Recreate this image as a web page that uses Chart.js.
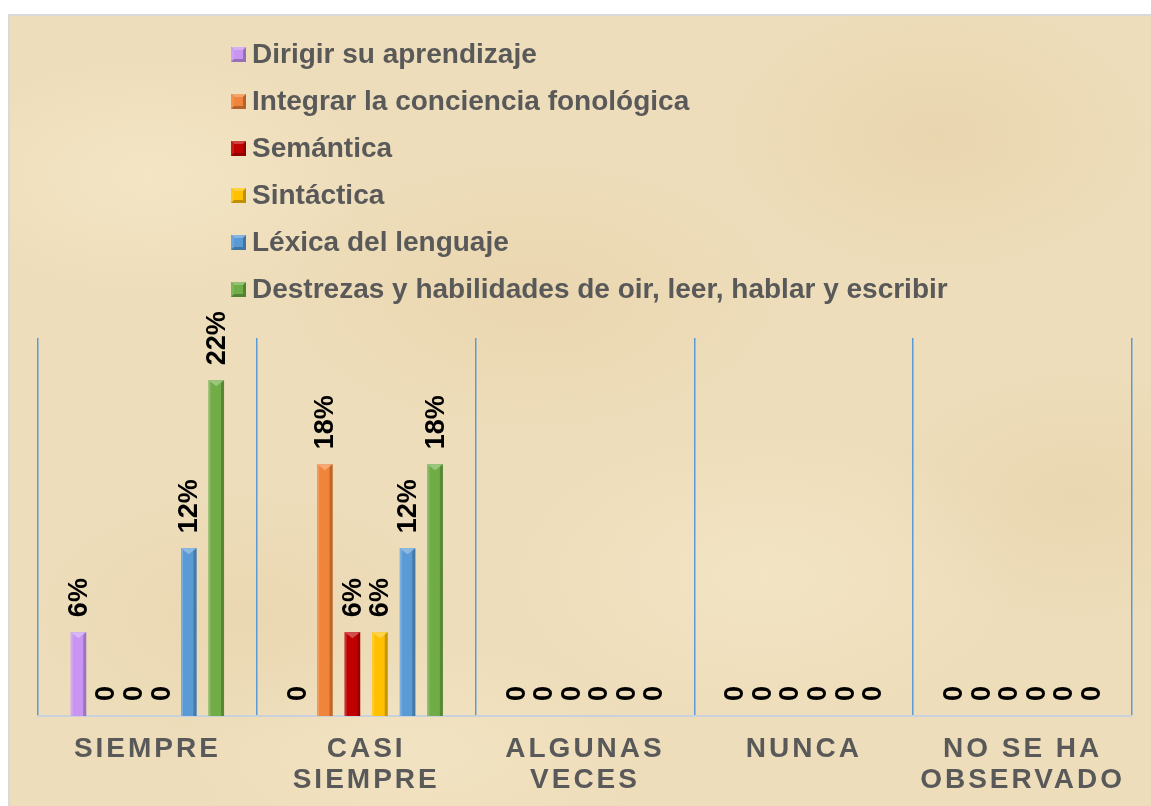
<!DOCTYPE html>
<html><head><meta charset="utf-8">
<script src="https://cdn.jsdelivr.net/npm/chart.js@4.4.1/dist/chart.umd.min.js"></script>
<style>
html,body{margin:0;padding:0;background:#fff;overflow:hidden;width:1151px;height:806px;}
#frame{position:absolute;left:8px;top:14px;width:1160px;height:800px;
border-left:2px solid #D9D9D9;border-top:2px solid #D9D9D9;
background-color:#EEDDBA;
background-image:
 radial-gradient(ellipse 220px 120px at 12% 20%, rgba(248,236,206,0.55), rgba(248,236,206,0) 100%),
 radial-gradient(ellipse 260px 140px at 45% 35%, rgba(228,206,162,0.4), rgba(228,206,162,0) 100%),
 radial-gradient(ellipse 220px 140px at 80% 15%, rgba(226,204,160,0.4), rgba(226,204,160,0) 100%),
 radial-gradient(ellipse 260px 150px at 65% 70%, rgba(248,236,208,0.45), rgba(248,236,208,0) 100%),
 radial-gradient(ellipse 220px 130px at 20% 75%, rgba(228,208,166,0.4), rgba(228,208,166,0) 100%),
 radial-gradient(ellipse 200px 130px at 92% 60%, rgba(226,206,164,0.4), rgba(226,206,164,0) 100%),
 radial-gradient(ellipse 240px 110px at 35% 92%, rgba(246,234,204,0.45), rgba(246,234,204,0) 100%);
}
#c{position:absolute;left:0;top:0;}
</style></head>
<body>
<div id="frame"></div>
<canvas id="c" width="1151" height="806"></canvas>
<script>
// ---- data ----
const categories = [['SIEMPRE'], ['CASI', 'SIEMPRE'], ['ALGUNAS', 'VECES'], ['NUNCA'], ['NO SE HA', 'OBSERVADO']];
const seriesNames = ['Dirigir su aprendizaje', 'Integrar la conciencia fonológica', 'Semántica', 'Sintáctica', 'Léxica del lenguaje', 'Destrezas y habilidades de oir, leer, hablar y escribir'];
const dirigirValues    = [5.88, 0, 0, 0, 0];
const integrarValues   = [0, 17.65, 0, 0, 0];
const semanticaValues  = [0, 5.88, 0, 0, 0];
const sintacticaValues = [0, 5.88, 0, 0, 0];
const lexicaValues     = [11.76, 11.76, 0, 0, 0];
const destrezasValues  = [23.53, 17.65, 0, 0, 0];
const dirigirLabels    = ['6%', '0', '0', '0', '0'];
const integrarLabels   = ['0', '18%', '0', '0', '0'];
const semanticaLabels  = ['0', '6%', '0', '0', '0'];
const sintacticaLabels = ['0', '6%', '0', '0', '0'];
const lexicaLabels     = ['12%', '12%', '0', '0', '0'];
const destrezasLabels  = ['22%', '18%', '0', '0', '0'];
const seriesColors = ['#C896F2', '#F0843A', '#C00000', '#FFC000', '#5B9BD5', '#70AD47'];

const FONT = '"Liberation Sans", Arial, sans-serif';
const allValues = [dirigirValues, integrarValues, semanticaValues, sintacticaValues, lexicaValues, destrezasValues];
const allLabels = [dirigirLabels, integrarLabels, semanticaLabels, sintacticaLabels, lexicaLabels, destrezasLabels];

function shade(hex, f) {
  const n = parseInt(hex.slice(1), 16);
  let r = (n >> 16) & 255, g = (n >> 8) & 255, b = n & 255;
  if (f >= 0) { r += (255 - r) * f; g += (255 - g) * f; b += (255 - b) * f; }
  else { r *= (1 + f); g *= (1 + f); b *= (1 + f); }
  return 'rgb(' + Math.round(r) + ',' + Math.round(g) + ',' + Math.round(b) + ')';
}

const letterSpacingPlugin = {
  id: 'ls',
  beforeDraw(chart) { chart.ctx.letterSpacing = '3px'; },
  beforeDatasetsDraw(chart) { chart.ctx.letterSpacing = '0px'; },
  afterDraw(chart) { chart.ctx.letterSpacing = '0px'; }
};

const bevelPlugin = {
  id: 'bevel',
  afterDatasetsDraw(chart) {
    const ctx = chart.ctx;
    ctx.save();
    ctx.letterSpacing = '0px';
    chart.data.datasets.forEach((ds, di) => {
      const meta = chart.getDatasetMeta(di);
      const col = ds.backgroundColor;
      meta.data.forEach((el, i) => {
        const h = el.base - el.y;
        const x0 = el.x - el.width / 2, x1 = el.x + el.width / 2;
        if (h > 1) {
          ctx.fillStyle = shade(col, -0.22);
          ctx.fillRect(x1 - 3, el.y, 3, h);
          ctx.fillStyle = shade(col, 0.18);
          ctx.fillRect(x0, el.y, 2, h);
          ctx.fillStyle = shade(col, 0.3);
          ctx.beginPath();
          ctx.moveTo(x0, el.y); ctx.lineTo(x1, el.y); ctx.lineTo(el.x, el.y + 6); ctx.closePath();
          ctx.fill();
        }
        const txt = allLabels[di][i];
        ctx.save();
        ctx.translate(el.x + 1, el.y - 15);
        ctx.rotate(-Math.PI / 2);
        ctx.font = 'bold 27px ' + FONT;
        ctx.fillStyle = '#000';
        ctx.textAlign = 'left';
        ctx.textBaseline = 'middle';
        ctx.fillText(txt, 0, 0);
        ctx.restore();
      });
    });
    ctx.restore();
  }
};

const legendPlugin = {
  id: 'vlegend',
  afterDraw(chart) {
    const ctx = chart.ctx;
    ctx.save();
    ctx.letterSpacing = '0px';
    chart.data.datasets.forEach((ds, i) => {
      const cy = 54 + i * 47;
      const mx = 231, my = cy - 7, s = 15;
      const col = ds.backgroundColor;
      ctx.fillStyle = shade(col, -0.25);
      ctx.fillRect(mx, my, s, s);
      ctx.fillStyle = shade(col, 0.25);
      ctx.beginPath(); ctx.moveTo(mx, my); ctx.lineTo(mx + s, my); ctx.lineTo(mx + s / 2, my + s / 2); ctx.closePath(); ctx.fill();
      ctx.fillStyle = shade(col, 0.1);
      ctx.beginPath(); ctx.moveTo(mx, my); ctx.lineTo(mx + s / 2, my + s / 2); ctx.lineTo(mx, my + s); ctx.closePath(); ctx.fill();
      ctx.fillStyle = col;
      ctx.fillRect(mx + 3, my + 3, s - 6, s - 6);
      ctx.font = 'bold 28px ' + FONT;
      ctx.fillStyle = '#595959';
      ctx.textAlign = 'left';
      ctx.textBaseline = 'middle';
      ctx.fillText(ds.label, 252, cy + 1);
    });
    ctx.restore();
  }
};

new Chart(document.getElementById('c'), {
  type: 'bar',
  data: {
    labels: categories,
    datasets: seriesNames.map((name, i) => ({
      label: name,
      data: allValues[i],
      backgroundColor: seriesColors[i],
      borderWidth: 0,
      barPercentage: 0.56,
      categoryPercentage: 0.756
    }))
  },
  options: {
    responsive: false,
    animation: false,
    devicePixelRatio: 1,
    layout: { padding: { top: 338, left: 38, right: 19, bottom: 0 } },
    plugins: { legend: { display: false }, tooltip: { enabled: false } },
    scales: {
      x: {
        offset: true,
        afterFit(s) { s.height = 90; },
        grid: { display: true, offset: true, color: '#5B9BD5', lineWidth: 1.5, drawTicks: false },
        border: { display: true, color: '#C9D1DD', width: 2 },
        ticks: {
          autoSkip: false, maxRotation: 0, minRotation: 0, padding: 18,
          color: '#595959',
          font: { family: FONT, size: 28, weight: 'bold', lineHeight: 1.1 }
        }
      },
      y: { display: false, min: 0, max: 26.5 }
    }
  },
  plugins: [letterSpacingPlugin, bevelPlugin, legendPlugin]
});
</script>
</body></html>
